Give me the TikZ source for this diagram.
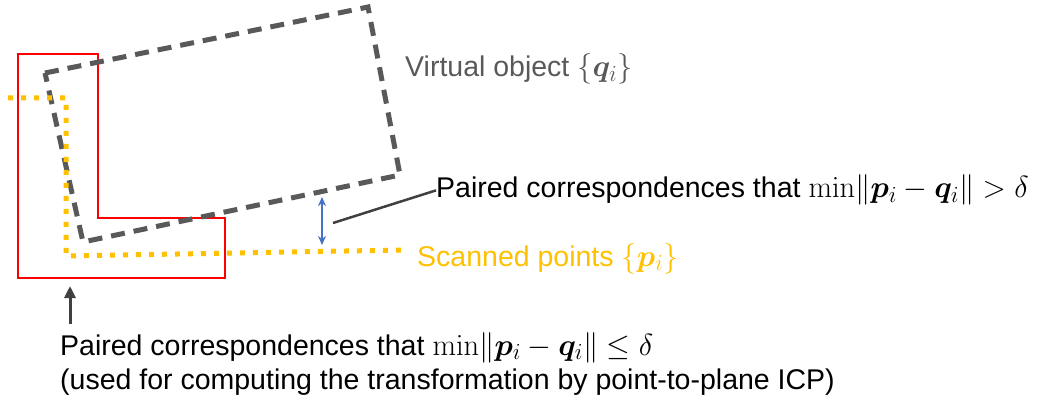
\RequirePackage{fix-cm}
\documentclass[tikz,border=0pt]{standalone}
\usepackage{amsmath}
\usepackage{bm}
\usepackage[no-math]{fontspec}
\setmainfont{Liberation Sans}
\usetikzlibrary{arrows.meta}
\DeclareMathSizes{28.5}{30.5}{23}{17}
\definecolor{vgray}{HTML}{595959}
\definecolor{scanor}{HTML}{FFC000}
\definecolor{arrblue}{HTML}{4472C4}
\definecolor{conngray}{HTML}{404040}
\newcommand{\vpi}{\bm{p}_i}
\newcommand{\vqi}{\bm{q}_i}
\tikzset{
  virt/.style={draw=vgray, line width=5pt, dash pattern=on 14pt off 9pt},
  scan/.style={draw=scanor, line width=5pt, dash pattern=on 5pt off 8pt},
  sel/.style={draw=red, line width=2pt},
  lbl/.style={anchor=base west, inner sep=0pt, font=\fontsize{28.5}{32}\selectfont},
  conn/.style={draw=conngray, line width=2.5pt},
}
\begin{document}
\begin{tikzpicture}[x=1pt, y=-1pt]
\useasboundingbox (0,0) rectangle (1038,403);
% red selection L
\draw[sel] (18,54) -- (98,54) -- (98,218) -- (225,218) -- (225,278) -- (18,278) -- cycle;
% virtual object
\draw[virt] (45,73) -- (368,7) -- (400,175) -- (83,242) -- cycle;
% scanned points
\draw[scan] (8,98) -- (66,98) -- (66,256) -- (402,250);
% labels
\node[lbl, text=vgray] (virtlbl) at (405,77) {Virtual object $\{\vqi\}$};
\node[lbl] (farlbl) at (436,198) {Paired correspondences that $\min\lVert\vpi-\vqi\rVert>\delta$};
\node[lbl, text=scanor] (scanlbl) at (417,266) {Scanned points $\{\vpi\}$};
\node[lbl] (nearlbl) at (60,355) {Paired correspondences that $\min\lVert\vpi-\vqi\rVert\le\delta$};
\node[lbl] (nearlbl2) at (60,389) {(used for computing the transformation by point-to-plane ICP)};
% gap arrow
\coordinate (gtop) at (322,197);
\coordinate (gbot) at (322,245);
\draw[draw=arrblue, line width=2pt, {Stealth[length=9pt,width=8pt]}-{Stealth[length=9pt,width=8pt]}] (gtop) -- (gbot);
% connector to far label
\coordinate (cstart) at (333,223);
\draw[conn] (cstart) -- (farlbl.west);
% arrow to L
\coordinate (abot) at (70,324);
\coordinate (atop) at (70,286);
\draw[conn, line width=3pt, -{Triangle[length=12pt,width=11pt]}] (abot) -- (atop);
\end{tikzpicture}
\end{document}
